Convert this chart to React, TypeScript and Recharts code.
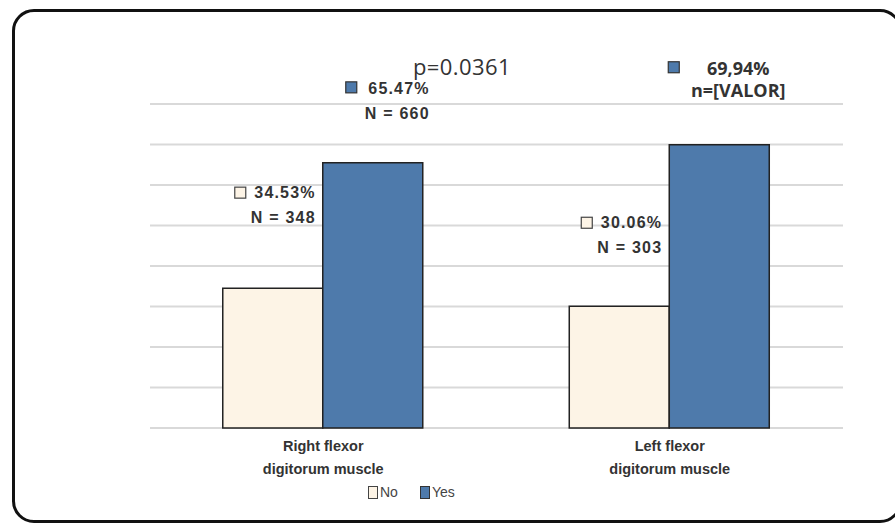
import { BarChart, Bar, XAxis, YAxis, CartesianGrid, Legend, LabelList } from "recharts";

const categories = ["Right flexor|digitorum muscle", "Left flexor|digitorum muscle"];
const noValues = [34.53, 30.06];
const yesValues = [65.47, 69.94];
const noLabels = [["34.53%", "N = 348"], ["30.06%", "N = 303"]];
const yesLabels = [["65.47%", "N = 660"], ["69,94%", "n=[VALOR]"]];
const yTicks = [0, 10, 20, 30, 40, 50, 60, 70, 80];
const pValue = "p=0.0361";

const NO_FILL = "#fdf4e6";
const YES_FILL = "#4e7aab";
const EDGE = "#222";

const data = categories.map((name, i) => ({
  name,
  no: noValues[i],
  yes: yesValues[i],
}));

const AxisTick = ({ x, y, payload }: any) => {
  const [l1, l2] = String(payload.value).split("|");
  return (
    <g transform={`translate(${x},${y})`}>
      <text textAnchor="middle" fontFamily="Liberation Sans, Arial" fontWeight="bold" fontSize={14.5} fill="#333">
        <tspan x={0} dy={15}>{l1}</tspan>
        <tspan x={0} dy={23}>{l2}</tspan>
      </text>
    </g>
  );
};

// label offsets per bar, relative to bar top
const noOffsets = [
  { dx: -7, dy: -90 },
  { dx: -7, dy: -78 },
];

const labelFont = {
  fontFamily: "Liberation Sans, Arial",
  fontWeight: "bold",
  fontSize: 16,
  letterSpacing: 1.2,
  fill: "#333",
};

const NoLabel = (props: any) => {
  const { x, y, width, index } = props;
  const [l1, l2] = noLabels[index];
  const o = noOffsets[index];
  const right = x + width + o.dx;
  const top = y + o.dy;
  return (
    <g>
      <rect x={right - 81} y={top - 11} width={11} height={11} fill={NO_FILL} stroke="#444" strokeWidth={1.2} />
      <text x={right} y={top} textAnchor="end" {...labelFont}>
        {l1}
      </text>
      <text x={right} y={top + 25} textAnchor="end" {...labelFont}>
        {l2}
      </text>
    </g>
  );
};

const YesLabel = (props: any) => {
  const { x, y, width, index } = props;
  const [l1, l2] = yesLabels[index];
  if (index === 0) {
    const right = x + width + 7;
    const top = y - 69;
    return (
      <g>
        <rect x={right - 84} y={top - 12} width={11} height={11} fill={YES_FILL} stroke="#333" strokeWidth={1.2} />
        <text x={right} y={top} textAnchor="end" {...labelFont}>
          {l1}
        </text>
        <text x={right} y={top + 25} textAnchor="end" {...labelFont}>
          {l2}
        </text>
      </g>
    );
  }
  const cx = x + width / 2 + 19;
  const top = y - 70;
  return (
    <g>
      <rect x={x - 1} y={top - 13} width={11} height={11} fill={YES_FILL} stroke="#333" strokeWidth={1.2} />
      <text x={cx} y={top} textAnchor="middle" fontFamily="Open Sans, sans-serif" fontWeight="bold" fontSize={18} fill="#333">
        {l1}
      </text>
      <text x={cx} y={top + 22} textAnchor="middle" fontFamily="Open Sans, sans-serif" fontWeight="bold" fontSize={18} fill="#333">
        {l2}
      </text>
    </g>
  );
};

const LegendContent = () => (
  <div style={{ display: "flex", alignItems: "center", fontFamily: "Liberation Sans, Arial", fontSize: 14, color: "#444" }}>
    <span style={{ width: 8, height: 11, background: NO_FILL, border: "1px solid #444", display: "inline-block", marginRight: 2 }} />
    <span style={{ marginRight: 22 }}>No</span>
    <span style={{ width: 8, height: 11, background: YES_FILL, border: "1px solid #333", display: "inline-block", marginRight: 2 }} />
    <span>Yes</span>
  </div>
);

export default function App() {
  return (
    <div style={{ position: "absolute", left: 0, top: 0, width: 895, height: 523, overflow: "hidden", background: "#fff" }}>
      <div
        style={{
          position: "absolute",
          left: 12,
          top: 9,
          width: 884,
          height: 508,
          border: "3px solid #111",
          borderRadius: 22,
        }}
      />
      <div
        style={{
          position: "absolute",
          left: 413,
          top: 51,
          fontFamily: "Open Sans, sans-serif",
          fontSize: 22,
          color: "#333",
          letterSpacing: 0.4,
        }}
      >
        {pValue}
      </div>
      <div style={{ position: "absolute", left: 0, top: 0 }}>
        <BarChart
          width={895}
          height={523}
          data={data}
          margin={{ top: 104, right: 52, bottom: 45, left: 150 }}
          barCategoryGap="21%"
          barGap={0}
        >
          <CartesianGrid vertical={false} stroke="#d9d9d9" strokeWidth={2} />
          <YAxis hide domain={[0, 80]} ticks={yTicks} />
          <XAxis dataKey="name" axisLine={false} tickLine={false} tick={<AxisTick />} height={50} interval={0} />
          <Legend
            layout="horizontal"
            verticalAlign="middle"
            align="center"
            wrapperStyle={{ top: 484, left: 368, width: "auto" }}
            content={<LegendContent />}
          />
          <Bar dataKey="no" name="No" fill={NO_FILL} stroke={EDGE} strokeWidth={1.5} isAnimationActive={false}>
            <LabelList dataKey="no" content={<NoLabel />} />
          </Bar>
          <Bar dataKey="yes" name="Yes" fill={YES_FILL} stroke={EDGE} strokeWidth={1.5} isAnimationActive={false}>
            <LabelList dataKey="yes" content={<YesLabel />} />
          </Bar>
        </BarChart>
      </div>
    </div>
  );
}
